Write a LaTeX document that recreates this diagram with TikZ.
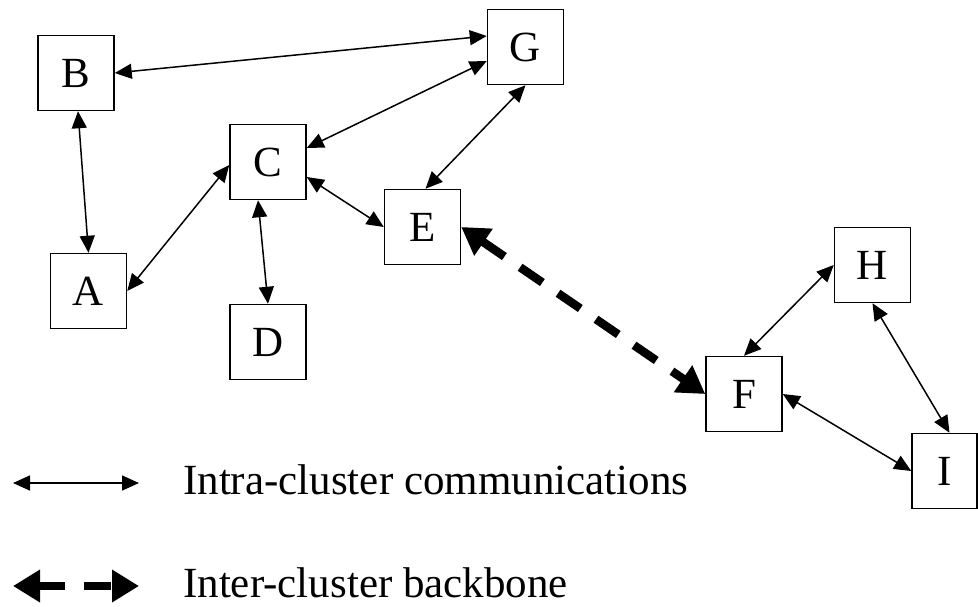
\documentclass[tikz,border=0pt]{standalone}
\usepackage{fontspec}
\setmainfont{Liberation Serif}
\usetikzlibrary{arrows.meta,calc}

\tikzset{
  station/.style={draw, line width=1.5pt, inner sep=0pt,
    minimum width=76pt, minimum height=75pt,
    font=\fontsize{43}{50}\selectfont},
  intra/.style={line width=1.5pt,
    {Triangle[length=17pt,width=15pt]}-{Triangle[length=17pt,width=15pt]}},
  backbone/.style={line width=8.5pt, dash pattern=on 27pt off 19pt,
    {Triangle[length=27pt,width=31pt]}-{Triangle[length=27pt,width=31pt]}},
  legendtext/.style={anchor=base west, inner sep=0pt,
    font=\fontsize{43}{50}\selectfont},
}

\begin{document}
\begin{tikzpicture}[x=1pt,y=-1pt]
  \useasboundingbox (0,0) rectangle (978,606);

  % cluster 1
  \node[station] (B) at (76,73)    {B};
  \node[station] (G) at (525.5,47) {G};
  \node[station] (C) at (268,162)  {C};
  \node[station] (E) at (422.5,227){E};
  \node[station] (A) at (88.5,291) {A};
  \node[station] (D) at (268,342)  {D};

  % cluster 2
  \node[station] (H) at (872.5,265){H};
  \node[station] (F) at (744,394)  {F};
  \node[station, minimum width=65pt] (I) at (944.5,471){I};

  % intra-cluster links
  \draw[intra] (B.east) -- ($(G.west)+(0,-11)$);
  \draw[intra] ($(B.south)+(2,0)$) -- (A.north);
  \draw[intra] (A.east) -- ($(C.west)+(0,3)$);
  \draw[intra] ($(C.south)+(-10,0)$) -- (D.north);
  \draw[intra] ($(C.east)+(0,-14)$) -- ($(G.west)+(0,14)$);
  \draw[intra] ($(C.east)+(0,15)$) -- (E.west);
  \draw[intra] (G.south) -- ($(E.north)+(3,0)$);
  \draw[intra] (F.north) -- (H.west);
  \draw[intra] (H.south) -- ($(I.north)+(5,0)$);
  \draw[intra] (F.east) -- (I.west);

  % inter-cluster backbone
  \draw[backbone] (E.east) -- (F.west);

  % legend
  \coordinate (l1a) at (13,483);
  \coordinate (l1b) at (139,483);
  \coordinate (l2a) at (13,586);
  \coordinate (l2b) at (139,586);
  \draw[intra] (l1a) -- (l1b);
  \draw[backbone] (l2a) -- (l2b);
  \node[legendtext] (t1) at (183,494) {Intra-cluster communications};
  \node[legendtext] (t2) at (183,597) {Inter-cluster backbone};
\end{tikzpicture}
\end{document}
